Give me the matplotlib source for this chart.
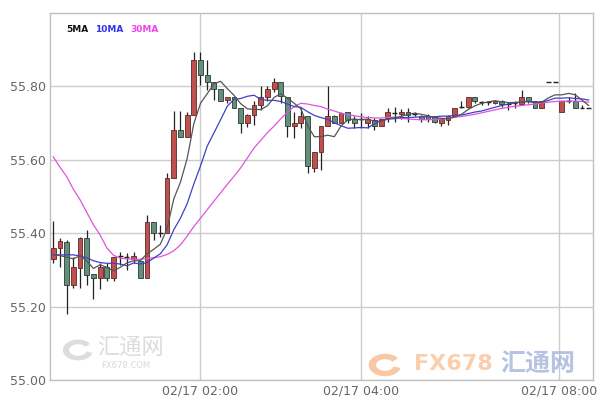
import numpy as np
import matplotlib
matplotlib.use('Agg')
import matplotlib.pyplot as plt
from matplotlib.patches import Wedge


# 5-minute candles
opens = [55.330, 55.359, 55.377, 55.259, 55.306, 55.388, 55.288, 55.277, 55.309, 55.277,
         55.336, 55.334, 55.330, 55.325, 55.279, 55.431, 55.400, 55.400, 55.550, 55.682,
         55.661, 55.723, 55.873, 55.832, 55.812, 55.794, 55.762, 55.770, 55.741, 55.700,
         55.723, 55.750, 55.770, 55.793, 55.812, 55.770, 55.691, 55.700, 55.720, 55.579,
         55.621, 55.691, 55.720, 55.700, 55.730, 55.711, 55.709, 55.700, 55.709, 55.691,
         55.713, 55.727, 55.725, 55.730, 55.724, 55.720, 55.720, 55.720, 55.700, 55.709,
         55.720, 55.741, 55.743, 55.770, 55.757, 55.757, 55.755, 55.760, 55.753, 55.753,
         55.753, 55.771, 55.760, 55.741, 55.813, 55.813, 55.729, 55.759, 55.760, 55.741,
         55.741]
highs = [55.432, 55.388, 55.382, 55.334, 55.390, 55.409, 55.288, 55.318, 55.318, 55.336,
         55.348, 55.345, 55.350, 55.325, 55.450, 55.431, 55.423, 55.564, 55.732, 55.732,
         55.730, 55.894, 55.894, 55.873, 55.812, 55.794, 55.771, 55.770, 55.741, 55.725,
         55.759, 55.800, 55.800, 55.823, 55.812, 55.770, 55.730, 55.741, 55.720, 55.621,
         55.691, 55.800, 55.723, 55.730, 55.730, 55.718, 55.727, 55.718, 55.713, 55.711,
         55.741, 55.745, 55.738, 55.741, 55.730, 55.723, 55.725, 55.720, 55.713, 55.723,
         55.741, 55.760, 55.770, 55.770, 55.761, 55.761, 55.761, 55.762, 55.757, 55.760,
         55.791, 55.771, 55.760, 55.760, 55.813, 55.813, 55.759, 55.770, 55.782, 55.750,
         55.741]
lows = [55.318, 55.309, 55.179, 55.250, 55.250, 55.259, 55.221, 55.248, 55.270, 55.270,
        55.314, 55.300, 55.320, 55.277, 55.277, 55.381, 55.390, 55.400, 55.550, 55.661,
        55.661, 55.723, 55.804, 55.790, 55.764, 55.761, 55.754, 55.741, 55.673, 55.690,
        55.695, 55.736, 55.760, 55.786, 55.755, 55.663, 55.659, 55.686, 55.564, 55.568,
        55.573, 55.691, 55.700, 55.700, 55.700, 55.686, 55.686, 55.686, 55.680, 55.691,
        55.704, 55.704, 55.712, 55.704, 55.718, 55.704, 55.704, 55.700, 55.691, 55.695,
        55.720, 55.740, 55.740, 55.755, 55.750, 55.750, 55.752, 55.745, 55.735, 55.740,
        55.753, 55.755, 55.741, 55.741, 55.813, 55.813, 55.729, 55.755, 55.741, 55.741,
        55.741]
closes = [55.359, 55.379, 55.259, 55.309, 55.388, 55.286, 55.277, 55.309, 55.277, 55.336,
          55.337, 55.334, 55.339, 55.277, 55.431, 55.400, 55.401, 55.550, 55.682, 55.661,
          55.723, 55.873, 55.832, 55.812, 55.794, 55.761, 55.771, 55.741, 55.700, 55.723,
          55.750, 55.770, 55.793, 55.812, 55.773, 55.691, 55.700, 55.720, 55.582, 55.621,
          55.691, 55.720, 55.700, 55.727, 55.709, 55.700, 55.710, 55.711, 55.693, 55.711,
          55.730, 55.728, 55.730, 55.723, 55.725, 55.712, 55.711, 55.703, 55.712, 55.720,
          55.741, 55.743, 55.770, 55.760, 55.758, 55.758, 55.761, 55.752, 55.753, 55.755,
          55.771, 55.760, 55.741, 55.760, 55.813, 55.813, 55.759, 55.760, 55.741, 55.741,
          55.741]

ma5 = [55.341, 55.339, 55.335, 55.330, 55.339, 55.324, 55.304, 55.314, 55.307, 55.297,
       55.307, 55.319, 55.325, 55.325, 55.344, 55.356, 55.370, 55.412, 55.493, 55.539,
       55.603, 55.698, 55.754, 55.780, 55.807, 55.814, 55.794, 55.776, 55.753, 55.739,
       55.737, 55.737, 55.747, 55.770, 55.780, 55.768, 55.754, 55.739, 55.693, 55.663,
       55.663, 55.667, 55.663, 55.692, 55.709, 55.711, 55.709, 55.711, 55.705, 55.705,
       55.711, 55.715, 55.718, 55.724, 55.727, 55.724, 55.720, 55.715, 55.713, 55.712,
       55.717, 55.724, 55.737, 55.747, 55.754, 55.758, 55.761, 55.758, 55.756, 55.756,
       55.758, 55.758, 55.756, 55.757, 55.769, 55.777, 55.777, 55.781, 55.777, 55.763,
       55.748]
ma10 = [55.341, 55.341, 55.341, 55.341, 55.338, 55.333, 55.325, 55.320, 55.318, 55.318,
        55.316, 55.311, 55.319, 55.316, 55.320, 55.332, 55.344, 55.368, 55.409, 55.441,
        55.480, 55.534, 55.583, 55.637, 55.673, 55.709, 55.746, 55.765, 55.767, 55.773,
        55.776, 55.765, 55.762, 55.762, 55.759, 55.752, 55.745, 55.743, 55.731, 55.721,
        55.715, 55.710, 55.701, 55.693, 55.686, 55.687, 55.688, 55.687, 55.698, 55.707,
        55.711, 55.712, 55.715, 55.715, 55.716, 55.717, 55.717, 55.717, 55.719, 55.719,
        55.721, 55.722, 55.726, 55.730, 55.733, 55.738, 55.743, 55.748, 55.752, 55.755,
        55.758, 55.760, 55.757, 55.757, 55.762, 55.768, 55.768, 55.769, 55.767, 55.766,
        55.763]
ma30 = [55.608, 55.580, 55.554, 55.520, 55.491, 55.457, 55.423, 55.395, 55.360, 55.340,
        55.332, 55.330, 55.329, 55.329, 55.331, 55.333, 55.336, 55.342, 55.352, 55.368,
        55.392, 55.418, 55.441, 55.464, 55.487, 55.510, 55.533, 55.555, 55.578, 55.605,
        55.632, 55.653, 55.674, 55.692, 55.712, 55.730, 55.745, 55.754, 55.752, 55.748,
        55.745, 55.738, 55.733, 55.727, 55.723, 55.720, 55.717, 55.715, 55.714, 55.714,
        55.715, 55.716, 55.713, 55.711, 55.710, 55.709, 55.709, 55.710, 55.711, 55.713,
        55.716, 55.718, 55.721, 55.724, 55.728, 55.732, 55.736, 55.740, 55.743, 55.746,
        55.748, 55.750, 55.752, 55.755, 55.757, 55.759, 55.760, 55.760, 55.760, 55.759,
        55.757]

y_ticks = [55.00, 55.20, 55.40, 55.60, 55.80]
x_tick_pos = [22, 46, 75.6]
x_tick_labels = ['02/17 02:00', '02/17 04:00', '02/17 08:00']

plt.rcParams['font.family'] = ['DejaVu Sans', 'Noto Sans CJK SC']

fig = plt.figure(figsize=(6, 4.05), dpi=100)
ax = fig.add_axes([50 / 600, 25 / 405, 543.3 / 600, 367 / 405])

o = np.array(opens)
h = np.array(highs)
l = np.array(lows)
c = np.array(closes)
x = np.arange(len(o))
up = c >= o
doji = np.abs(c - o) < 0.003

# wicks
ax.vlines(x, l, h, color='#222222', lw=0.9, zorder=2)

# bodies
w = 0.72
bottom = np.minimum(o, c)
height = np.abs(c - o)
red = up & ~doji
grn = ~up & ~doji
ax.bar(x[red], height[red], w, bottom[red], color='#c0504d', edgecolor='#5a2a28', lw=0.6, zorder=3)
ax.bar(x[grn], height[grn], w, bottom[grn], color='#62907a', edgecolor='#2c3b33', lw=0.6, zorder=3)
ax.hlines(c[doji], x[doji] - w / 2, x[doji] + w / 2, color='#222222', lw=1.0, zorder=3)

# moving averages
ax.plot(x, ma30, color='#dd55dd', lw=0.9, zorder=4)
ax.plot(x, ma10, color='#4040c8', lw=0.9, zorder=5)
ax.plot(x, ma5, color='#555555', lw=0.9, zorder=6)

ax.set_xlim(-0.49, 80.7)
ax.set_ylim(55.0, 56.0)
ax.set_yticks(y_ticks)
ax.set_yticklabels(['%.2f' % v for v in y_ticks])
ax.set_xticks(x_tick_pos)
ax.set_xticklabels(x_tick_labels)
ax.tick_params(length=0, labelsize=9, labelcolor='#666666', pad=3)
ax.grid(True, color='#cccccc', lw=1.0, zorder=0)
ax.set_axisbelow(True)
for s in ax.spines.values():
    s.set_color('#c0c0c0')
    s.set_linewidth(1.0)

# legend labels
fig.text(66 / 600, 1 - 29 / 405, '5MA', fontsize=6.5, color='#111111', va='center', weight='bold')
fig.text(95 / 600, 1 - 29 / 405, '10MA', fontsize=6.5, color='#3333ee', va='center', weight='bold')
fig.text(130 / 600, 1 - 29 / 405, '30MA', fontsize=6.5, color='#ee44ee', va='center', weight='bold')

# watermarks
fig.patches.append(Wedge((78 / 600, 1 - 350 / 405), 0.024, 40, 340, width=0.008,
                         transform=fig.transFigure, color='#dddddd', zorder=1))
fig.text(97 / 600, 1 - 347 / 405, '汇通网', fontsize=16, color='#dcdcdc', va='center',
         family=['Noto Sans CJK SC', 'DejaVu Sans'])
fig.text(101 / 600, 1 - 365 / 405, 'FX678.COM', fontsize=6, color='#d8d8d8', va='center')
fig.patches.append(Wedge((385 / 600, 1 - 365 / 405), 0.026, 40, 340, width=0.01,
                         transform=fig.transFigure, color='#f7c9a6', zorder=1))
fig.text(414 / 600, 1 - 364 / 405, 'FX678', fontsize=16, color='#f9c7a0', va='center',
         weight='bold', alpha=0.85)
fig.text(500 / 600, 1 - 364 / 405, '汇通网', fontsize=18, color='#a9b9dd', va='center',
         family=['Noto Sans CJK SC', 'DejaVu Sans'], weight='bold', alpha=0.85)

fig.savefig('out.png', dpi=100)
